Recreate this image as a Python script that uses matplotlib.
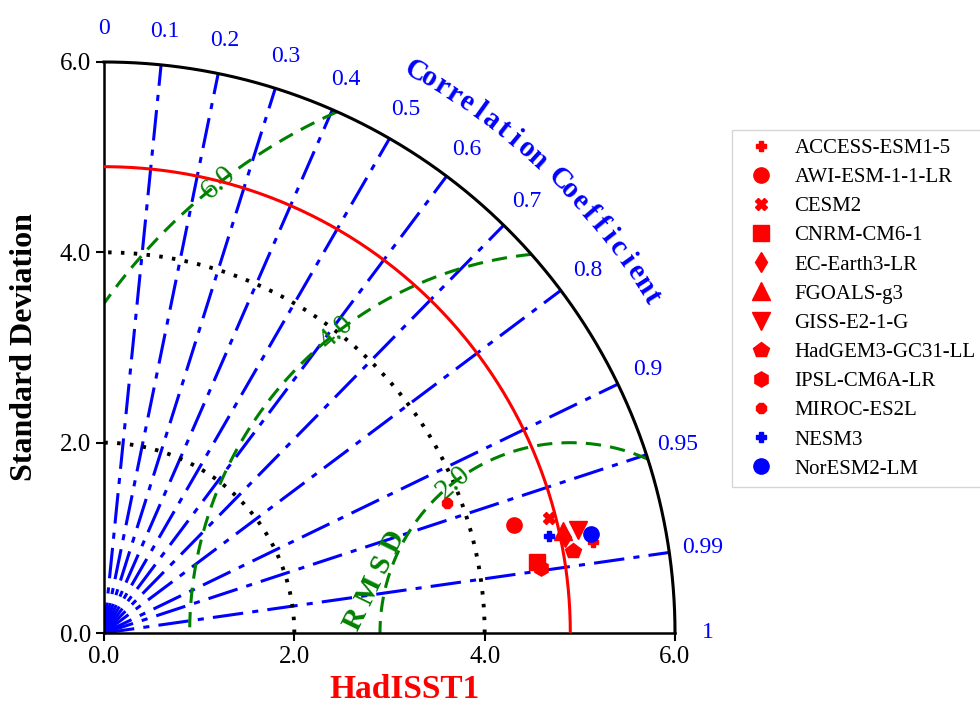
import numpy as np
import matplotlib.pyplot as plt

plt.rcParams['font.family'] = ['Liberation Serif', 'DejaVu Serif']

# model results against HadISST1
models = ['ACCESS-ESM1-5', 'AWI-ESM-1-1-LR', 'CESM2', 'CNRM-CM6-1', 'EC-Earth3-LR',
          'FGOALS-g3', 'GISS-E2-1-G', 'HadGEM3-GC31-LL', 'IPSL-CM6A-LR', 'MIROC-ES2L',
          'NESM3', 'NorESM2-LM']
model_std = [5.23, 4.45, 4.83, 4.61, 4.95, 4.94, 5.10, 5.00, 4.64, 3.86, 4.79, 5.22]
model_corr = [0.983, 0.967, 0.968, 0.987, 0.979, 0.976, 0.977, 0.985, 0.989, 0.935, 0.977, 0.980]
markers = ['P', 'o', 'X', 's', 'd', '^', 'v', 'p', 'h', '8', 'P', 'o']
colors = ['red'] * 10 + ['blue'] * 2
msizes = [7, 11, 8, 11, 10, 13, 13, 11.5, 11, 7.5, 7, 11]

ref_std = 4.9
std_max = 6.0
corr_lines = [0.1, 0.2, 0.3, 0.4, 0.5, 0.6, 0.7, 0.8, 0.9, 0.95, 0.99]
corr_labels = [0, 0.1, 0.2, 0.3, 0.4, 0.5, 0.6, 0.7, 0.8, 0.9, 0.95, 0.99, 1]
rmsd_levels = [2.0, 4.0, 6.0]
std_levels = [2.0, 4.0]
ticks = [0.0, 2.0, 4.0, 6.0]

fig = plt.figure(figsize=(9.8, 7.13), dpi=100)
ax = fig.add_axes([104/980, 80/713, 571/980, 571/713])
ax.set_xlim(0, std_max)
ax.set_ylim(0, std_max)
ax.set_aspect('equal')

t = np.linspace(0, np.pi/2, 400)

# correlation lines
for c in corr_lines:
    a = np.arccos(c)
    ax.plot([0, std_max*np.cos(a)], [0, std_max*np.sin(a)], color='blue', lw=2.2,
            linestyle=(0, (10, 3, 2, 3)), zorder=2)

# std circles
for s in std_levels:
    ax.plot(s*np.cos(t), s*np.sin(t), color='black', lw=2.8, linestyle=(0, (0.9, 2.4)), zorder=2)

# rmsd arcs
tt = np.linspace(0, np.pi, 2000)
for r in rmsd_levels:
    x = ref_std + r*np.cos(tt)
    y = r*np.sin(tt)
    bad = (x**2 + y**2 > std_max**2) | (x < 0)
    x[bad] = np.nan
    y[bad] = np.nan
    ax.plot(x, y, color='green', lw=2.2, linestyle=(0, (5, 3)), zorder=2)
    ang = np.radians(128)
    ax.text(ref_std + r*np.cos(ang), r*np.sin(ang), '%.1f' % r, color='green',
            fontsize=21, rotation=42, ha='center', va='center', zorder=3)
ax.text(2.85, 0.55, 'R M S D', color='green', fontsize=21, fontweight='bold',
        rotation=64, ha='center', va='center')

# reference std
ax.plot(ref_std*np.cos(t), ref_std*np.sin(t), color='red', lw=2.2, zorder=3)

# outer arc
ax.plot(std_max*np.cos(t), std_max*np.sin(t), color='black', lw=2.2, clip_on=False, zorder=4)

# correlation labels
for c in corr_labels:
    a = np.arccos(c)
    ax.text(6.35*np.cos(a), 6.35*np.sin(a), str(c), color='blue', fontsize=17,
            ha='center', va='center', clip_on=False)

title = 'Correlation Coefficient'
angs = np.linspace(61, 31.5, len(title))
for ch, a in zip(title, angs):
    ar = np.radians(a)
    ax.text(6.75*np.cos(ar), 6.75*np.sin(ar), ch, color='blue', fontsize=21,
            fontweight='bold', rotation=a-90, ha='center', va='center',
            rotation_mode='anchor', clip_on=False)

# models
for name, s, c, m, col, ms in zip(models, model_std, model_corr, markers, colors, msizes):
    a = np.arccos(c)
    ax.plot(s*np.cos(a), s*np.sin(a), marker=m, color=col, markersize=ms,
            linestyle='none', label=name, zorder=5)

ax.spines['top'].set_visible(False)
ax.spines['right'].set_visible(False)
ax.spines['left'].set_linewidth(1.8)
ax.spines['bottom'].set_linewidth(1.8)
ax.set_xticks(ticks)
ax.set_yticks(ticks)
ax.set_xticklabels(['%.1f' % v for v in ticks])
ax.set_yticklabels(['%.1f' % v for v in ticks])
ax.tick_params(direction='out', length=6, width=1.5, labelsize=18)
ax.set_ylabel('Standard Deviation', fontsize=23, fontweight='bold')
ax.yaxis.set_label_coords(-0.114, 0.5)
ax.set_xlabel('HadISST1', fontsize=24, fontweight='bold', color='red')
ax.xaxis.set_label_coords((405 - 104)/571, -0.072)

fig.legend(loc='upper left', bbox_to_anchor=(732/980, 1 - 130/713), fontsize=15,
           numpoints=1, labelspacing=0.46, handletextpad=0.6, borderpad=0.4,
           borderaxespad=0, frameon=True, fancybox=False, edgecolor='#cccccc')

fig.savefig('out.png', dpi=100)
